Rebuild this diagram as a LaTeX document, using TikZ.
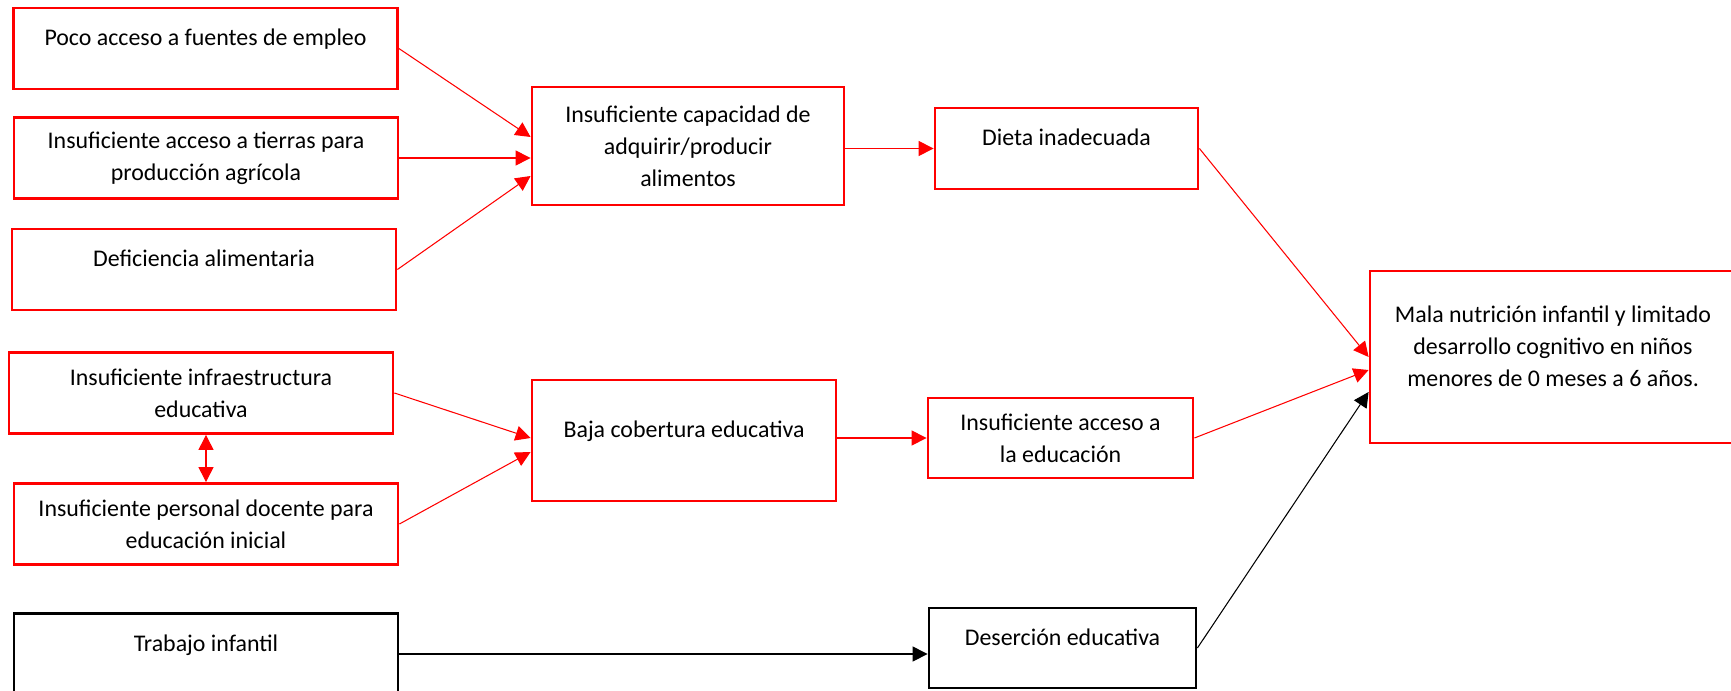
\documentclass[tikz,border=0pt]{standalone}
\usepackage{fontspec}
\setmainfont{Carlito}
\usepackage{tikz}
\usetikzlibrary{arrows.meta}

\tikzset{
  causa/.style={draw=red, line width=1.6pt, minimum width=7.68cm, minimum height=1.62cm, align=center, inner sep=0pt},
  alta/.style={text height=9pt, text depth=12pt},
}

\begin{document}
\begin{tikzpicture}[>={Triangle[length=0.3cm,width=0.3cm]}, every node/.style={font=\fontsize{13.6}{18.2}\selectfont}]
\useasboundingbox (0,0) rectangle (34.62,-13.8);

\node[causa, alta] (pcemp) at (4.11,-0.97) {Poco acceso a fuentes de empleo};
\node[causa] (tierr) at (4.12,-3.16) {Insuficiente acceso a tierras para\\producción agrícola};
\node[causa, alta] (defal) at (4.08,-5.39) {Deficiencia alimentaria};
\node[causa] (infra) at (4.02,-7.86) {Insuficiente infraestructura\\educativa};
\node[causa] (docen) at (4.12,-10.48) {Insuficiente personal docente para\\educación inicial};
\node[causa, alta, draw=black] (trab) at (4.12,-13.08) {Trabajo infantil};

\node[causa, minimum width=6.24cm, minimum height=2.36cm] (capac) at (13.76,-2.92) {Insuficiente capacidad de\\adquirir/producir\\alimentos};
\node[causa, alta, minimum width=6.08cm, minimum height=2.42cm] (baja) at (13.68,-8.81) {Baja cobertura educativa};

\node[causa, alta, minimum width=5.26cm] (dieta) at (21.33,-2.97) {Dieta inadecuada};
\node[causa, minimum width=5.3cm, minimum height=1.6cm] (accedu) at (21.21,-8.76) {Insuficiente acceso a\\la educación};
\node[causa, alta, draw=black, minimum width=5.34cm, minimum height=1.6cm] (deser) at (21.25,-12.96) {Deserción educativa};

\node[causa, minimum width=7.32cm, minimum height=3.44cm] (mala) at (31.06,-7.14) {Mala nutrición infantil y limitado\\desarrollo cognitivo en niños\\menores de 0 meses a 6 años.\\[-6pt]\mbox{}};

\draw[red, line width=0.6pt]
	(pcemp.east) edge[->] ([yshift=0.18cm]capac.west)
	(tierr.east) edge[->] (tierr.east -| capac.west)
	(defal.east) edge[->] ([yshift=-0.6cm]capac.west)
	(capac.east |- dieta.west) edge[->] (dieta.west)
	(infra.east) edge[->] ([yshift=0.05cm]baja.west)
	(docen.east) edge[->] ([yshift=-0.23cm]baja.west)
	(docen.north |- infra.south) edge[<->] (docen.north)
	(baja.east |- accedu.west) edge[->] (accedu.west)
	(dieta.east) edge[->] (mala.west)
	(accedu.east) edge[->] ([yshift=-0.26cm]mala.west)
;
\draw[line width=0.6pt]
	(trab.east) edge[->] (trab.east -| deser.west)
	(deser.east) edge[->] ([yshift=-0.7cm]mala.west)
;
\end{tikzpicture}
\end{document}
